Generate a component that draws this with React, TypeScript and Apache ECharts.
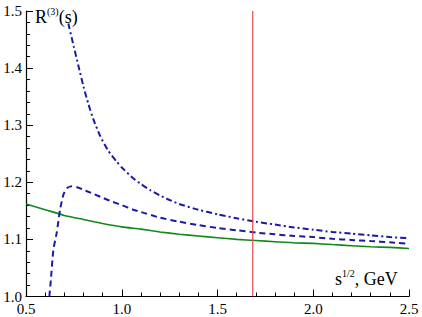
import React, { useEffect, useRef } from "react";
import * as echarts from "echarts";

const greenX = [0.5, 0.6, 0.7, 0.8, 0.9, 1.0, 1.1, 1.2, 1.3, 1.4, 1.5, 1.6, 1.7, 1.8, 1.9, 2.0, 2.1, 2.2, 2.3, 2.4, 2.5];
const greenY = [1.162, 1.152, 1.142, 1.135, 1.128, 1.122, 1.118, 1.113, 1.109, 1.106, 1.103, 1.1, 1.098, 1.096, 1.094, 1.093, 1.091, 1.089, 1.087, 1.086, 1.084];

const dashedX = [0.622, 0.63, 0.643, 0.66, 0.678, 0.695, 0.715, 0.74, 0.77, 0.8, 0.85, 0.9, 0.95, 1.0, 1.06, 1.1, 1.2, 1.3, 1.4, 1.5, 1.6, 1.7, 1.8, 1.9, 2.0, 2.1, 2.2, 2.3, 2.4, 2.5];
const dashedY = [1.0, 1.03, 1.082, 1.111, 1.152, 1.178, 1.19, 1.193, 1.191, 1.187, 1.18, 1.173, 1.166, 1.16, 1.152, 1.148, 1.138, 1.131, 1.125, 1.12, 1.116, 1.112, 1.109, 1.106, 1.104, 1.101, 1.099, 1.097, 1.095, 1.092];

const dashDotX = [0.721, 0.75, 0.773, 0.8, 0.825, 0.85, 0.886, 0.93, 0.974, 1.0, 1.06, 1.1, 1.15, 1.2, 1.25, 1.3, 1.4, 1.5, 1.6, 1.7, 1.8, 1.9, 2.0, 2.1, 2.2, 2.3, 2.4, 2.5];
const dashDotY = [1.478, 1.437, 1.405, 1.368, 1.338, 1.312, 1.282, 1.255, 1.236, 1.226, 1.207, 1.197, 1.186, 1.177, 1.169, 1.162, 1.152, 1.144, 1.137, 1.131, 1.126, 1.121, 1.117, 1.113, 1.11, 1.107, 1.104, 1.102];

const redLineX = 1.684;
const redLineY = [1.0, 1.5];

const xTicks = [0.5, 1.0, 1.5, 2.0, 2.5];
const yTicks = [1.0, 1.1, 1.2, 1.3, 1.4, 1.5];

const FONT = "'Liberation Serif', 'Times New Roman', serif";
const zip = (xs: number[], ys: number[]) => xs.map((x, i) => [x, ys[i]]);

export default function App() {
  const ref = useRef<HTMLDivElement>(null);
  useEffect(() => {
    document.body.style.margin = "0";
    const chart = echarts.init(ref.current!, null, { renderer: "svg" });
    const axisCommon = {
      axisLine: { show: true, lineStyle: { color: "#000", width: 1.2 } },
      axisTick: { show: true, inside: true, length: 7, lineStyle: { color: "#000", width: 1 } },
      minorTick: { show: true, splitNumber: 5, length: 4, lineStyle: { color: "#000", width: 1 } },
      splitLine: { show: false },
      axisLabel: { color: "#000", fontFamily: FONT, fontSize: 15, formatter: (v: number) => v.toFixed(1) },
    };
    const rich = {
      b: { fontSize: 18, fontFamily: FONT, color: "#000", lineHeight: 20, verticalAlign: "bottom" },
      s: { fontSize: 10, fontFamily: FONT, color: "#000", lineHeight: 12, verticalAlign: "top" },
    };
    const richTxt = (text: string, left: number, top: number) => ({
      type: "text",
      left,
      top,
      style: { text, rich, fill: "#000", fontFamily: FONT },
    });
    chart.setOption({
      animation: false,
      textStyle: { fontFamily: FONT },
      grid: { left: 26, right: 13, top: 11, bottom: 20.5, containLabel: false },
      xAxis: {
        type: "value",
        min: xTicks[0],
        max: xTicks[xTicks.length - 1],
        interval: 0.5,
        ...axisCommon,
        axisLabel: { ...axisCommon.axisLabel, margin: 5 },
      },
      yAxis: {
        type: "value",
        min: yTicks[0],
        max: yTicks[yTicks.length - 1],
        interval: 0.1,
        ...axisCommon,
        axisLabel: { ...axisCommon.axisLabel, margin: 4 },
      },
      series: [
        {
          type: "line",
          data: zip(greenX, greenY),
          showSymbol: false,
          smooth: 0.2,
          lineStyle: { color: "#12881a", width: 1.6, type: "solid" },
        },
        {
          type: "line",
          data: zip(dashedX, dashedY),
          showSymbol: false,
          smooth: 0.2,
          lineStyle: { color: "#1a1aa6", width: 2, type: [6, 4] },
        },
        {
          type: "line",
          data: zip(dashDotX, dashDotY),
          showSymbol: false,
          smooth: 0.2,
          lineStyle: { color: "#1a1aa6", width: 2, type: [6, 3, 2, 3] },
        },
        {
          type: "line",
          data: redLineY.map((y) => [redLineX, y]),
          showSymbol: false,
          lineStyle: { color: "#e84a4a", width: 1.2 },
        },
      ],
      graphic: [
        richTxt("{b|R}{s|(3)}{b|(s)}", 35, 6),
        richTxt("{b|s}{s|1/2}{b|, GeV}", 335, 268),
      ],
    });
    return () => chart.dispose();
  }, []);
  return <div ref={ref} style={{ width: 422, height: 317 }} />;
}
